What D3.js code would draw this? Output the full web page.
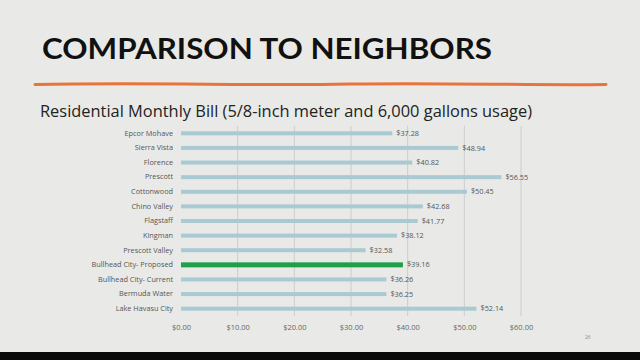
<!DOCTYPE html>
<html><head><meta charset="utf-8">
<script src="https://cdn.jsdelivr.net/npm/d3@7"></script>
<style>html,body{margin:0;padding:0;background:#e9eae7;}svg{display:block;}</style>
</head><body>
<script>
const categories = ["Epcor Mohave","Sierra Vista","Florence","Prescott","Cottonwood","Chino Valley","Flagstaff","Kingman","Prescott Valley","Bullhead City- Proposed","Bullhead City- Current","Bermuda Water","Lake Havasu City"];
const values = [37.28,48.94,40.82,56.55,50.45,42.68,41.77,38.12,32.58,39.16,36.26,36.25,52.14];
const highlight = "Bullhead City- Proposed";
const tickValues = [0,10,20,30,40,50,60];
const title = "COMPARISON TO NEIGHBORS";
const subtitle = "Residential Monthly Bill (5/8-inch meter and 6,000 gallons usage)";

const W = 640, H = 360;
const svg = d3.select("body").append("svg").attr("width", W).attr("height", H);
svg.append("rect").attr("width", W).attr("height", H).attr("fill", "#e9eae7");
svg.append("rect").attr("x",0).attr("y",352).attr("width",W).attr("height",8).attr("fill","#0a0a0a");

svg.append("text").attr("x",42).attr("y",59).text(title)
  .attr("font-family","Lato, 'Open Sans', sans-serif").attr("font-weight","bold")
  .attr("font-size",28).attr("fill","#111").attr("textLength",450).attr("lengthAdjust","spacingAndGlyphs");

svg.append("path").attr("d","M35,84.5 C150,82 250,86 350,84 C450,82.5 520,85.5 606,84.5")
  .attr("stroke","#e8743b").attr("stroke-width",3).attr("fill","none").attr("stroke-linecap","round");

svg.append("text").attr("x",40).attr("y",117).text(subtitle)
  .attr("font-family","'Open Sans', sans-serif").attr("font-size",16.5).attr("fill","#222")
  .attr("textLength",492).attr("lengthAdjust","spacingAndGlyphs");

const x = d3.scaleLinear().domain([0,60]).range([181,521]);
const y = d3.scaleBand().domain(categories).range([126,316]).paddingInner(0).paddingOuter(0);

// gridlines
svg.append("g").selectAll("line").data(tickValues.slice(1)).join("line")
  .attr("x1",d=>x(d)).attr("x2",d=>x(d)).attr("y1",126).attr("y2",316)
  .attr("stroke","#c4c6c4").attr("stroke-width",0.8);

// x axis
const xAxis = d3.axisBottom(x).tickValues(tickValues).tickFormat(d=>"$"+d3.format(".2f")(d)).tickSize(0).tickPadding(0);
const gx = svg.append("g").attr("transform","translate(0,330)").call(xAxis);
gx.select(".domain").remove();
gx.selectAll("text").attr("font-family","'Open Sans', sans-serif").attr("font-size",7.5).attr("fill","#666").attr("dy",0);

// y axis labels
const yAxis = d3.axisLeft(y).tickSize(0).tickPadding(8);
const gy = svg.append("g").attr("transform","translate(181,0)").call(yAxis);
gy.select(".domain").remove();
gy.selectAll("text").attr("font-family","'Open Sans', sans-serif").attr("font-size",7.3).attr("fill","#555");

// bars
const data = categories.map((c,i)=>({c, v: values[i]}));
svg.append("g").selectAll("rect").data(data).join("rect")
  .attr("x", x(0))
  .attr("y", d => y(d.c) + y.bandwidth()/2 - (d.c===highlight?2.5:2))
  .attr("width", d => x(d.v) - x(0))
  .attr("height", d => d.c===highlight?5:4)
  .attr("fill", d => d.c===highlight ? "#1f9f48" : "#a9c9d3");

// value labels
svg.append("g").selectAll("text").data(data).join("text")
  .attr("x", d => x(d.v) + 4)
  .attr("y", d => y(d.c) + y.bandwidth()/2 + 2.6)
  .text(d => "$" + d3.format(".2f")(d.v))
  .attr("font-family","'Open Sans', sans-serif").attr("font-size",7.3).attr("fill","#555");

svg.append("text").attr("x",585).attr("y",339).text("26")
  .attr("font-family","'Open Sans', sans-serif").attr("font-size",5).attr("fill","#888");
</script>
</body></html>
